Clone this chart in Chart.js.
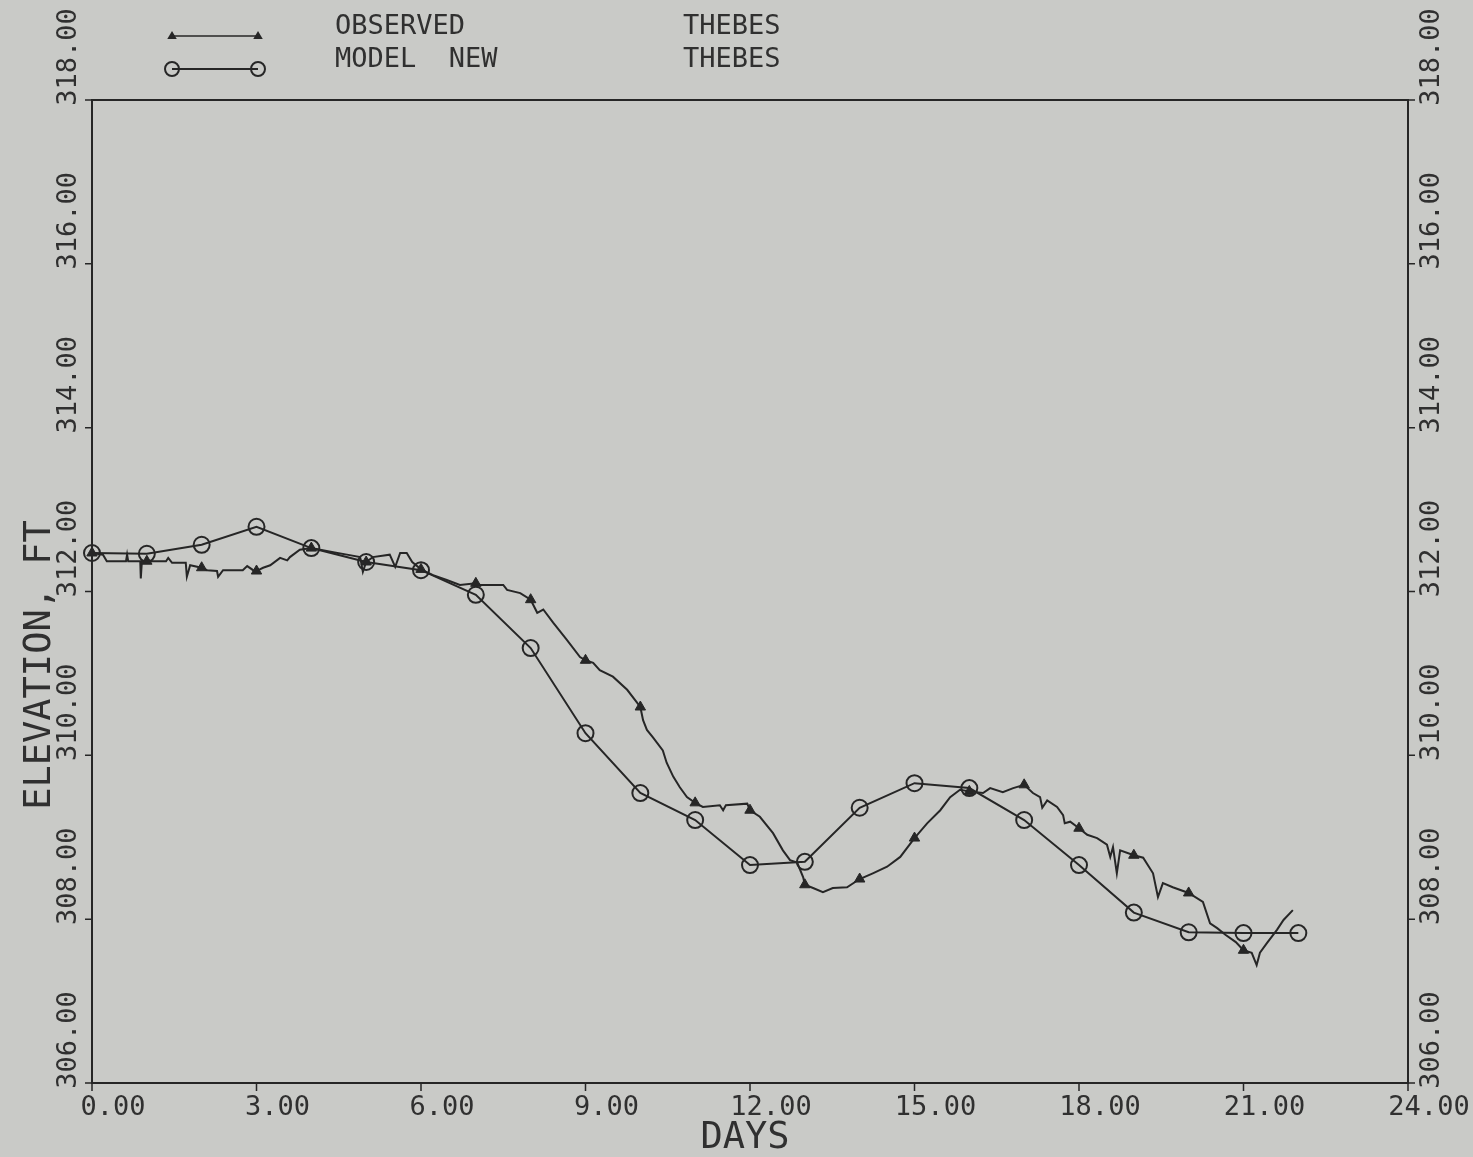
<!DOCTYPE html>
<html>
<head>
<meta charset="utf-8">
<script src="https://cdn.jsdelivr.net/npm/chart.js@4/dist/chart.umd.min.js"></script>
<style>
  html, body { margin: 0; padding: 0; background: #c9cac7; }
  #wrap { position: relative; width: 1473px; height: 1157px; }
</style>
</head>
<body>
<div id="wrap"><canvas id="plot"></canvas></div>
<script>
// Observed stage at Thebes (days, elevation in ft)
const observedDays = [
  0.00, 0.20, 0.27, 0.62, 0.64, 0.66, 0.88, 0.89, 0.91, 1,
  1.35, 1.39, 1.46, 1.71, 1.73, 1.79, 2, 2.10, 2.28, 2.30,
  2.39, 2.75, 2.83, 2.94, 3, 3.12, 3.25, 3.43, 3.56, 3.61,
  3.79, 4, 4.16, 4.40, 4.65, 4.89, 4.94, 5, 5.12, 5.43,
  5.53, 5.62, 5.74, 5.84, 6, 6.22, 6.47, 6.71, 7, 7.08,
  7.50, 7.57, 7.81, 8, 8.12, 8.23, 8.41, 8.66, 8.90, 9,
  9.14, 9.26, 9.50, 9.76, 10, 10.05, 10.12, 10.23, 10.41, 10.48,
  10.60, 10.72, 10.85, 11, 11.14, 11.45, 11.51, 11.56, 11.95, 12,
  12.18, 12.42, 12.60, 12.73, 12.86, 12.97, 13, 13.15, 13.33, 13.51,
  13.77, 14, 14.24, 14.50, 14.74, 15, 15.23, 15.47, 15.65, 15.83,
  16, 16.25, 16.38, 16.61, 16.80, 17, 17.16, 17.29, 17.33, 17.42,
  17.60, 17.71, 17.74, 17.84, 18, 18.15, 18.33, 18.51, 18.57, 18.62,
  18.69, 18.75, 19, 19.17, 19.35, 19.44, 19.53, 19.71, 20, 20.26,
  20.39, 20.52, 20.67, 20.86, 21, 21.15, 21.24, 21.30, 21.43, 21.61,
  21.73, 21.90
];
const observedElev = [
  312.47, 312.45, 312.37, 312.37, 312.45, 312.37, 312.37, 312.16, 312.37, 312.37,
  312.37, 312.41, 312.35, 312.35, 312.18, 312.32, 312.29, 312.26, 312.25, 312.18,
  312.26, 312.26, 312.31, 312.26, 312.25, 312.29, 312.32, 312.41, 312.38, 312.42,
  312.51, 312.53, 312.51, 312.48, 312.45, 312.42, 312.24, 312.36, 312.42, 312.45,
  312.30, 312.47, 312.47, 312.36, 312.27, 312.20, 312.14, 312.08, 312.10, 312.08,
  312.08, 312.02, 311.98, 311.90, 311.74, 311.78, 311.62, 311.41, 311.20, 311.16,
  311.13, 311.04, 310.96, 310.80, 310.59, 310.43, 310.31, 310.22, 310.06, 309.91,
  309.74, 309.61, 309.49, 309.42, 309.37, 309.39, 309.33, 309.39, 309.41, 309.33,
  309.25, 309.05, 308.84, 308.72, 308.69, 308.51, 308.42, 308.38, 308.33, 308.38,
  308.39, 308.49, 308.56, 308.64, 308.76, 308.99, 309.17, 309.33, 309.49, 309.58,
  309.56, 309.54, 309.60, 309.55, 309.60, 309.64, 309.54, 309.49, 309.36, 309.45,
  309.37, 309.27, 309.17, 309.19, 309.11, 309.03, 308.99, 308.91, 308.76, 308.88,
  308.56, 308.84, 308.78, 308.75, 308.56, 308.27, 308.44, 308.39, 308.32, 308.21,
  307.95, 307.89, 307.81, 307.72, 307.62, 307.59, 307.44, 307.59, 307.71, 307.87,
  307.99, 308.11
];

// Computed stage, new model, at Thebes (one value per day)
const modelDays = [0, 1, 2, 3, 4, 5, 6, 7, 8, 9, 10, 11, 12, 13, 14, 15, 16, 17, 18, 19, 20, 21, 22];
const modelElev = [
  312.47, 312.46, 312.57, 312.79, 312.53, 312.36, 312.26, 311.96, 311.31, 310.27,
  309.54, 309.21, 308.66, 308.70, 309.36, 309.66, 309.60, 309.21, 308.66, 308.08,
  307.84, 307.83, 307.83
];

// Axis ticks and texts
const dayTicks = [0, 3, 6, 9, 12, 15, 18, 21, 24];
const elevTicks = [306, 308, 310, 312, 314, 316, 318];
const xTitle = 'DAYS';
const yTitle = 'ELEVATION, FT';
const legendRows = [
  { name: 'OBSERVED', station: 'THEBES', marker: 'triangle' },
  { name: 'MODEL  NEW', station: 'THEBES', marker: 'circle' }
];

const INK = '#262626';
const TEXT = '#303030';
const FONT = '"DejaVu Sans Mono", "Liberation Mono", monospace';

function drawTriangle(ctx, x, y, r) {
  ctx.beginPath();
  ctx.moveTo(x, y - r);
  ctx.lineTo(x + r * 0.95, y + r * 0.6);
  ctx.lineTo(x - r * 0.95, y + r * 0.6);
  ctx.closePath();
  ctx.fill();
}
function drawCircle(ctx, x, y, r) {
  ctx.beginPath();
  ctx.arc(x, y, r, 0, Math.PI * 2);
  ctx.stroke();
}

// Frame, ticks, tick labels, titles and legend in the plotter style
const plotterDecor = {
  id: 'plotterDecor',
  afterDraw(chart) {
    const { ctx, chartArea: a, scales } = chart;
    const xs = scales.x, ys = scales.y;
    ctx.save();

    // frame
    ctx.strokeStyle = INK;
    ctx.lineWidth = 2;
    ctx.strokeRect(a.left, a.top, a.right - a.left, a.bottom - a.top);

    // ticks
    ctx.lineWidth = 1.5;
    ctx.beginPath();
    dayTicks.forEach(v => {
      const px = xs.getPixelForValue(v);
      ctx.moveTo(px, a.bottom); ctx.lineTo(px, a.bottom + 8);
    });
    elevTicks.forEach(v => {
      const py = ys.getPixelForValue(v);
      ctx.moveTo(a.left - 7, py); ctx.lineTo(a.left, py);
      ctx.moveTo(a.right, py); ctx.lineTo(a.right + 7, py);
    });
    ctx.stroke();

    // x tick labels
    ctx.fillStyle = TEXT;
    ctx.font = '27px ' + FONT;
    ctx.textAlign = 'center';
    ctx.textBaseline = 'middle';
    dayTicks.forEach(v => {
      const px = xs.getPixelForValue(v);
      ctx.fillText(v.toFixed(2), px + 21, a.bottom + 25);
    });

    // y tick labels, rotated, on both sides
    elevTicks.forEach(v => {
      const py = ys.getPixelForValue(v);
      [a.left - 23, a.right + 24].forEach(cx => {
        ctx.save();
        ctx.translate(cx, py - 43);
        ctx.rotate(-Math.PI / 2);
        ctx.fillText(v.toFixed(2), 0, 0);
        ctx.restore();
      });
    });

    // axis titles
    ctx.font = '37px ' + FONT;
    ctx.fillText(xTitle, 745, a.bottom + 55);
    ctx.save();
    ctx.translate(40, 665);
    ctx.rotate(-Math.PI / 2);
    ctx.fillText(yTitle, 0, 0);
    ctx.restore();

    // legend
    ctx.font = '27px ' + FONT;
    ctx.textAlign = 'left';
    ctx.strokeStyle = INK;
    ctx.fillStyle = INK;
    legendRows.forEach((row, i) => {
      const ty = 27 + i * 33;
      const my = ty + 9;
      ctx.lineWidth = row.marker === 'circle' ? 2 : 1.5;
      ctx.beginPath();
      ctx.moveTo(172, my); ctx.lineTo(258, my);
      ctx.stroke();
      [172, 258].forEach(mx => {
        if (row.marker === 'triangle') drawTriangle(ctx, mx, my, 5);
        else { ctx.lineWidth = 2; drawCircle(ctx, mx, my, 7); }
      });
      ctx.fillStyle = TEXT;
      ctx.fillText(row.name, 335, ty);
      ctx.fillText(row.station, 683, ty);
      ctx.fillStyle = INK;
    });

    ctx.restore();
  }
};

new Chart(document.getElementById('plot'), {
  type: 'line',
  data: {
    datasets: [
      {
        label: 'OBSERVED THEBES',
        data: observedDays.map((d, i) => ({ x: d, y: observedElev[i] })),
        borderColor: INK,
        borderWidth: 2,
        pointStyle: 'triangle',
        pointRadius: c => (c.raw && Number.isInteger(c.raw.x) ? 6 : 0),
        pointBackgroundColor: INK,
        pointBorderColor: INK,
        pointBorderWidth: 1,
        tension: 0,
        clip: false
      },
      {
        label: 'MODEL NEW THEBES',
        data: modelDays.map((d, i) => ({ x: d, y: modelElev[i] })),
        borderColor: INK,
        borderWidth: 2,
        pointStyle: 'circle',
        pointRadius: 8,
        pointBackgroundColor: 'rgba(0,0,0,0)',
        pointBorderColor: INK,
        pointBorderWidth: 2,
        tension: 0,
        clip: false
      }
    ]
  },
  options: {
    responsive: true,
    maintainAspectRatio: false,
    devicePixelRatio: 1,
    animation: false,
    events: [],
    layout: { padding: { left: 92, right: 65, top: 100, bottom: 74 } },
    plugins: { legend: { display: false }, tooltip: { enabled: false } },
    scales: {
      x: {
        type: 'linear', min: 0, max: 24,
        ticks: { display: false, stepSize: 3 },
        grid: { display: false, drawTicks: false },
        border: { display: false },
        afterFit: s => { s.height = 0; }
      },
      y: {
        type: 'linear', min: 306, max: 318,
        ticks: { display: false, stepSize: 2 },
        grid: { display: false, drawTicks: false },
        border: { display: false },
        afterFit: s => { s.width = 0; }
      }
    }
  },
  plugins: [plotterDecor]
});
</script>
</body>
</html>
